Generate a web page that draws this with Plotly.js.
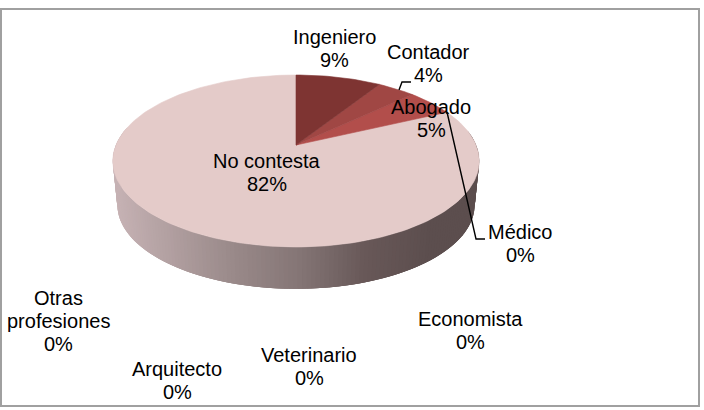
<!DOCTYPE html>
<html>
<head>
<meta charset="utf-8">
<script src="https://cdn.plot.ly/plotly-3.0.1.min.js"></script>
<style>
  html, body { margin: 0; padding: 0; background: #fff; }
  #gd { width: 704px; height: 410px; }
</style>
</head>
<body>
<div id="gd"></div>
<script>
// values, in drawing order (clockwise from 12 o'clock)
var categories = ["Ingeniero", "Contador", "Abogado", "Médico", "Economista", "Veterinario", "Arquitecto", "Otras\nprofesiones", "No contesta"];
var percents = [9, 4, 5, 0, 0, 0, 0, 0, 82];
var sliceColors = ["#7e3432", "#a04744", "#b24e4b", "#c06060", "#c87070", "#d08080", "#d89090", "#dea0a0", "#e4cbc9"];

// where each label sits (middle x, y of first line), same order as categories
var labelPos = [[334, 37], [428, 52], [431, 107], [520, 232], [470, 319], [309, 355], [177, 369], [58, 298], [267, 161]];
var lineStep = 23;

// leader lines
var leaders = [
  {x: [399, 402, 411], y: [90, 82, 82]},
  {x: [447, 476, 485], y: [112, 239, 239]}
];

// pie tilted in perspective, so the apex is not the middle of the ellipse
var apexX = 296, apexY = 145, spreadX = 180, spreadY = 83, tilt = 0.186;
var wallDrop = 44, wallShrink = 0.975, topMidY = 161;

function project(deg) {
  var a = deg * Math.PI / 180;
  var X = Math.sin(a), Y = Math.cos(a), w = 1 + tilt * Y;
  return [apexX + spreadX * X / w, apexY - spreadY * Y / w];
}

function lower(p) {
  return [apexX + (p[0] - apexX) * wallShrink, topMidY + wallDrop + (p[1] - topMidY) * wallShrink];
}

function wallColor(x) {
  var stops = [[115, [198, 178, 180]], [233, [154, 138, 138]], [300, [133, 118, 118]], [367, [104, 88, 88]], [433, [92, 78, 78]], [480, [92, 78, 78]]];
  for (var i = 0; i < stops.length - 1; i++) {
    if (x <= stops[i + 1][0]) {
      var t = Math.max(0, (x - stops[i][0]) / (stops[i + 1][0] - stops[i][0]));
      var c = stops[i][1].map(function (v, k) { return Math.round(v + (stops[i + 1][1][k] - v) * t); });
      return "rgb(" + c.join(",") + ")";
    }
  }
  return "rgb(92,78,78)";
}

var traces = [];

function polygon(xs, ys, color, stroke) {
  traces.push({
    type: "scatter", mode: "lines", x: xs, y: ys, fill: "toself", fillcolor: color,
    line: {color: color, width: stroke}, hoverinfo: "skip", showlegend: false
  });
}

// side wall, thin strips to get the shading. each strip runs under the next one
// so no seams show between them
var step = 1.2;
for (var d = 80; d < 280; d += step) {
  var a = project(d), b = project(d + step * 3), c = lower(b), e = lower(a);
  polygon([a[0], b[0], c[0], e[0], a[0]], [a[1], b[1], c[1], e[1], a[1]], wallColor(a[0]), 0);
}

// top face, the big slice first so the small ones end up over it
var start = 0, slices = [];
percents.forEach(function (v, i) {
  slices.push({from: start, to: start + v * 3.6, color: sliceColors[i]});
  start += v * 3.6;
});
slices.reverse().forEach(function (s) {
  if (s.to <= s.from) return;
  var xs = [apexX], ys = [apexY];
  for (var g = s.from; g < s.to; g += 1.5) {
    var p = project(g);
    xs.push(p[0]); ys.push(p[1]);
  }
  var q = project(s.to);
  xs.push(q[0], apexX); ys.push(q[1], apexY);
  polygon(xs, ys, s.color, 0.6);
});

leaders.forEach(function (l) {
  traces.push({
    type: "scatter", mode: "lines", x: l.x, y: l.y,
    line: {color: "#000", width: 1.4}, hoverinfo: "skip", showlegend: false
  });
});

// one annotation per text line, plotly's own line height is too tall here
var annotations = [];
categories.forEach(function (name, i) {
  var lines = name.split("\n").concat([percents[i] + "%"]);
  lines.forEach(function (t, n) {
    annotations.push({
      x: labelPos[i][0], y: labelPos[i][1] + n * lineStep, xref: "x", yref: "y",
      text: t, showarrow: false, xanchor: "center", yanchor: "middle",
      font: {family: "Liberation Sans, Arial, sans-serif", size: 20, color: "#000"}
    });
  });
});

var layout = {
  width: 704,
  height: 410,
  margin: {l: 0, r: 0, t: 0, b: 0},
  paper_bgcolor: "#fff",
  plot_bgcolor: "#fff",
  showlegend: false,
  xaxis: {range: [0, 704], visible: false, fixedrange: true},
  yaxis: {range: [410, 0], visible: false, fixedrange: true},
  annotations: annotations,
  shapes: [{
    type: "rect", xref: "x", yref: "y", x0: 1, y0: 9, x1: 699, y1: 406,
    line: {color: "#a0a0a0", width: 2}
  }]
};

Plotly.newPlot("gd", traces, layout, {staticPlot: true, displayModeBar: false});
</script>
</body>
</html>
